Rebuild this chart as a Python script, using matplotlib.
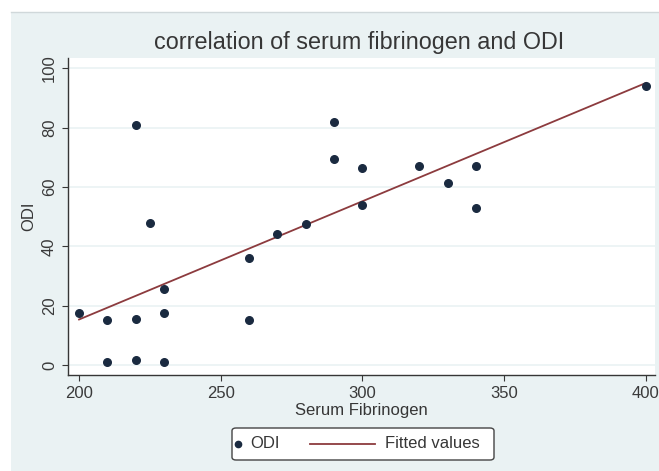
import numpy as np
import matplotlib
matplotlib.use('Agg')
import matplotlib.pyplot as plt
from matplotlib.patches import Rectangle, FancyBboxPatch

plt.rcParams['font.family'] = ['Liberation Sans', 'DejaVu Sans']

# data
fibrinogen = [200, 210, 210, 220, 220, 220, 225, 230, 230, 230, 260, 260,
              270, 280, 290, 290, 300, 300, 320, 330, 340, 340, 400]
odi = [17.5, 15, 1, 81, 15.5, 1.5, 48, 25.5, 17.5, 1, 36, 15,
       44, 47.5, 82, 69.5, 66.5, 54, 67, 61.5, 67, 53, 94]
xticks = [200, 250, 300, 350, 400]
yticks = [0, 20, 40, 60, 80, 100]

# fitted values (linear regression)
slope, icept = np.polyfit(fibrinogen, odi, 1)
xfit = np.array([min(fibrinogen), max(fibrinogen)])
yfit = icept + slope * xfit

bg = '#eaf2f3'
navy = '#1a2a40'
maroon = '#8c3b3e'
txt = '#363636'
W, H = 659, 471

def fx(px):
    return px / W

def fy(py):
    return 1 - py / H

fig = plt.figure(figsize=(6.59, 4.71), dpi=100)
fig.patch.set_facecolor('white')
fig.patches.append(Rectangle((fx(11), 0), 1 - fx(11), fy(12), transform=fig.transFigure,
                             facecolor=bg, edgecolor='none', zorder=-10))
fig.lines.append(plt.Line2D([fx(11), 1], [fy(12), fy(12)], transform=fig.transFigure,
                            color='#d0d8da', lw=1))

ax = fig.add_axes([fx(68), fy(375), (655 - 68) / W, (375 - 58) / H])
ax.set_facecolor('white')
ax.scatter(fibrinogen, odi, s=30, color=navy, zorder=3, label='ODI')
ax.plot(xfit, yfit, color=maroon, lw=1.3, zorder=2, label='Fitted values')

ax.set_xlim(196.1, 403.2)
ax.set_ylim(-3.4, 103.5)
ax.set_xticks(xticks)
ax.set_yticks(yticks)
ax.grid(axis='y', color=bg, lw=1.2)
ax.set_axisbelow(True)
for s in ['top', 'right']:
    ax.spines[s].set_visible(False)
for s in ['left', 'bottom']:
    ax.spines[s].set_color(txt)
    ax.spines[s].set_linewidth(1)
ax.tick_params(colors=txt, labelcolor='#3a3a3a', labelsize=12, length=4, pad=4)
plt.setp(ax.get_yticklabels(), rotation=90, va='center')

ax.set_xlabel('Serum Fibrinogen', fontsize=12, color=txt, labelpad=1)
ax.set_ylabel('ODI', fontsize=12, color=txt, labelpad=4)
fig.text(fx(359), fy(43), 'correlation of serum fibrinogen and ODI',
         ha='center', va='center', fontsize=16.8, color=txt)

# legend drawn by hand (marker sits right next to its label, as in Stata)
fig.patches.append(FancyBboxPatch((fx(232), fy(460)), fx(494) - fx(232), fy(428) - fy(460),
                                  boxstyle='round,pad=0,rounding_size=0.006',
                                  transform=fig.transFigure, facecolor='white',
                                  edgecolor='#444444', lw=1))
fig.lines.append(plt.Line2D([fx(238)], [fy(444)], transform=fig.transFigure,
                            marker='o', ms=4.5, color=navy, ls='none'))
fig.text(fx(250), fy(444), 'ODI', ha='left', va='center', fontsize=12, color=txt)
fig.lines.append(plt.Line2D([fx(310), fx(375)], [fy(444), fy(444)],
                            transform=fig.transFigure, color=maroon, lw=1.3))
fig.text(fx(385), fy(444), 'Fitted values', ha='left', va='center', fontsize=12, color=txt)

fig.savefig('out.png', dpi=100)
